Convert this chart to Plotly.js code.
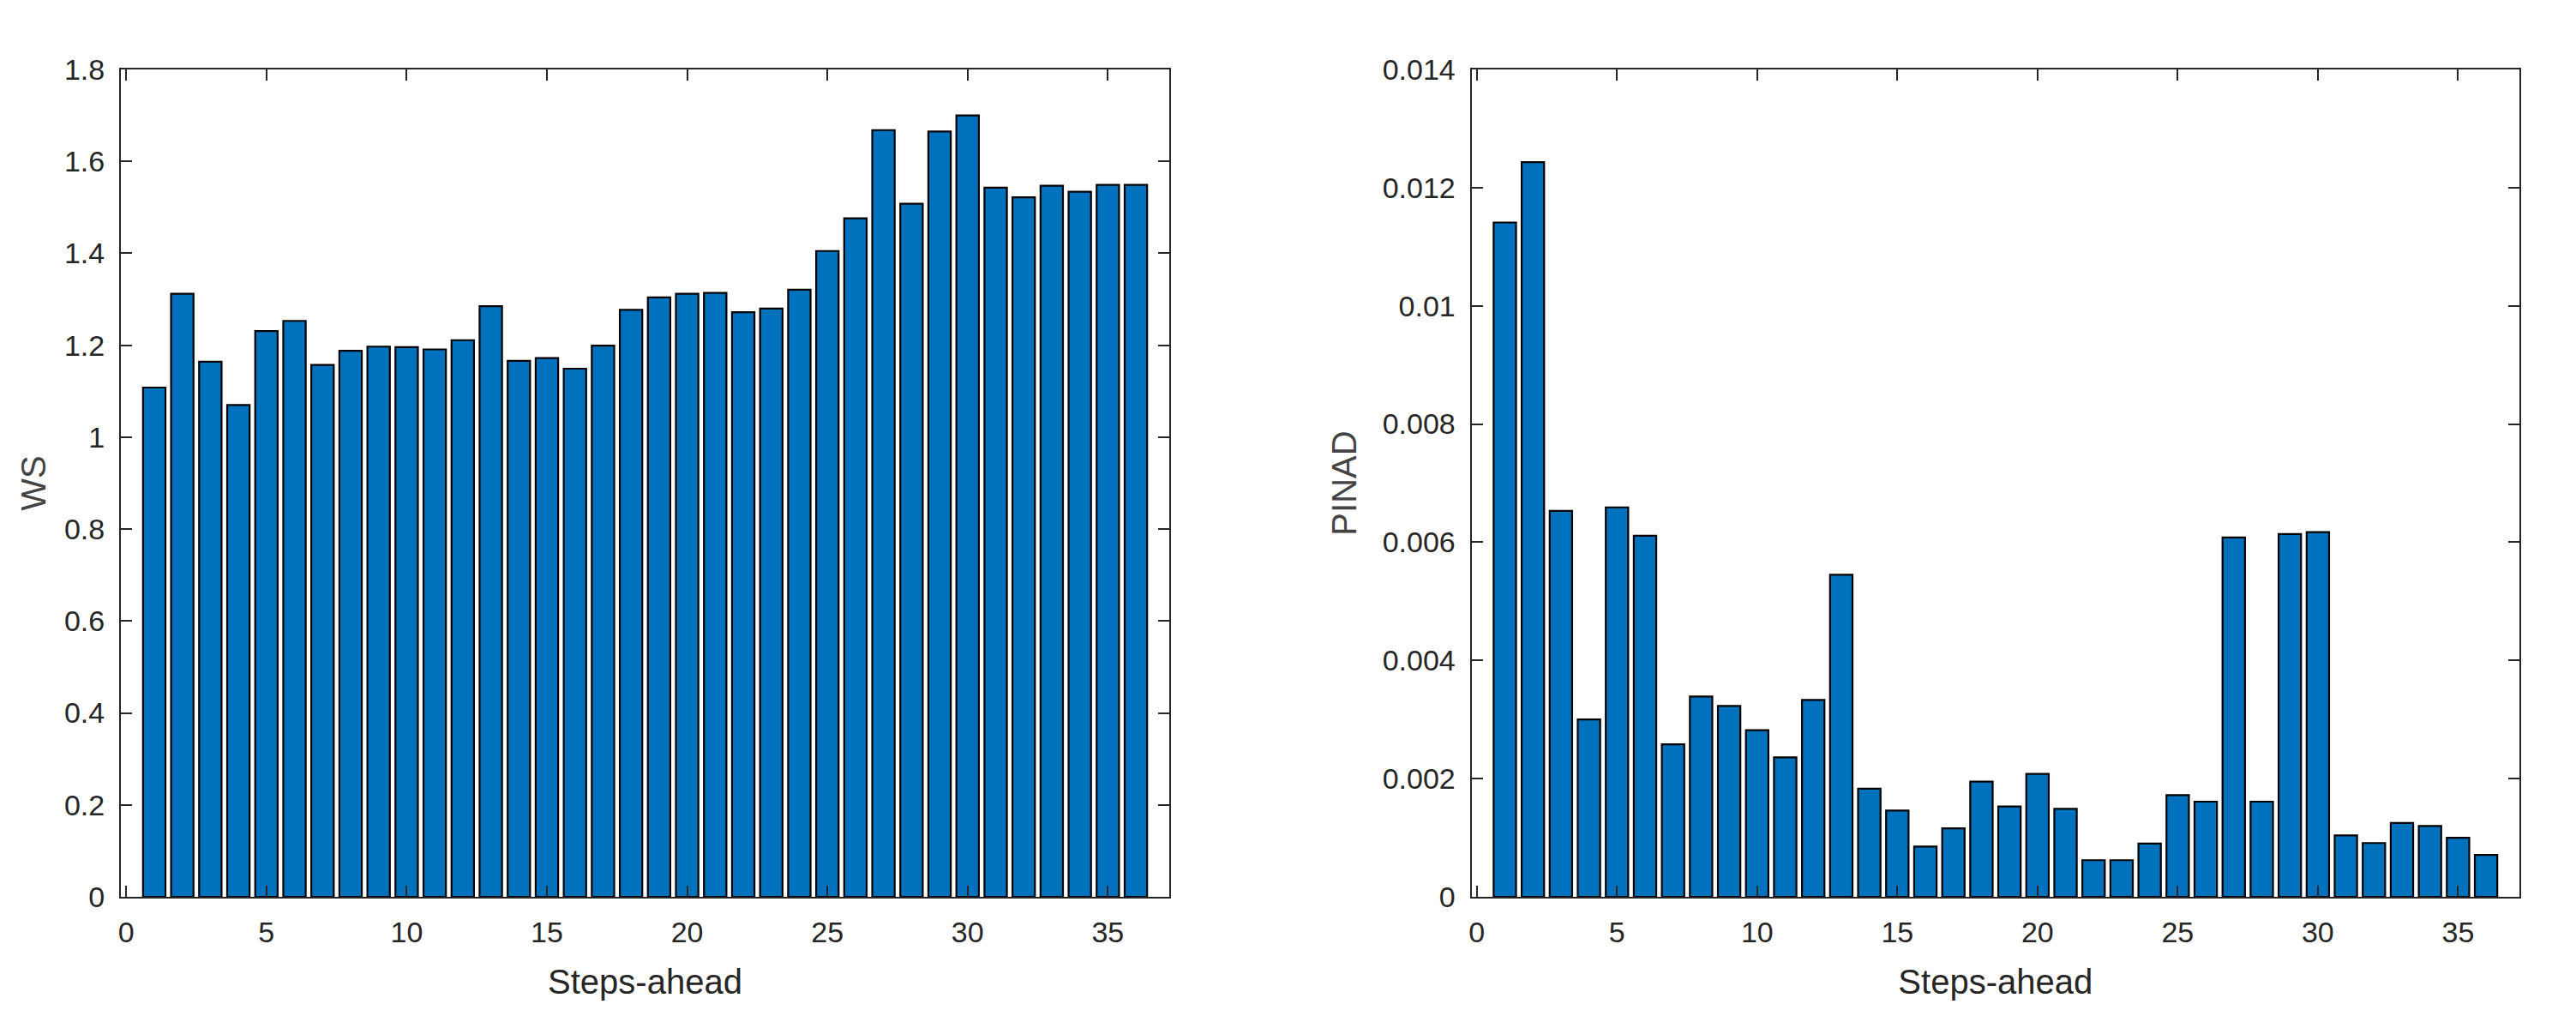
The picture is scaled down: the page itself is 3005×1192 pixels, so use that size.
<!DOCTYPE html>
<html>
<head>
<meta charset="utf-8">
<script src="https://cdn.plot.ly/plotly-3.0.1.min.js"></script>
<style>html,body{margin:0;padding:0;background:#fff;}#chart{width:3005px;height:1192px;}</style>
</head>
<body>
<div id="chart"></div>
<script>
// Steps-ahead categories
var steps = [1,2,3,4,5,6,7,8,9,10,11,12,13,14,15,16,17,18,19,20,21,22,23,24,25,26,27,28,29,30,31,32,33,34,35,36];

// WS values (left panel)
var wsValues = [1.108,1.312,1.164,1.070,1.231,1.253,1.157,1.188,1.197,1.196,1.191,1.211,1.285,1.166,1.172,1.149,1.199,1.277,
                1.304,1.312,1.314,1.272,1.280,1.321,1.405,1.476,1.668,1.508,1.665,1.700,1.543,1.522,1.547,1.534,1.549,1.549];

// PINAD values (right panel)
var pinadValues = [0.01141,0.01243,0.00653,0.00300,0.00659,0.00611,0.00258,0.00339,0.00323,0.00282,0.00236,0.00333,0.00545,0.00183,0.00146,0.00085,0.00116,0.00195,
                   0.00153,0.00208,0.00149,0.00062,0.00062,0.00090,0.00172,0.00161,0.00608,0.00161,0.00614,0.00617,0.00104,0.00091,0.00125,0.00120,0.00100,0.00071];

// tick labels
var xTickVals = [0,5,10,15,20,25,30,35];
var xTickText = ['0','5','10','15','20','25','30','35'];
var wsTickVals = [0,0.2,0.4,0.6,0.8,1,1.2,1.4,1.6,1.8];
var wsTickText = ['0','0.2','0.4','0.6','0.8','1','1.2','1.4','1.6','1.8'];
var pinadTickVals = [0,0.002,0.004,0.006,0.008,0.01,0.012,0.014];
var pinadTickText = ['0','0.002','0.004','0.006','0.008','0.01','0.012','0.014'];

var barColor = '#0072BD';
var axisColor = '#262626';
var fontFam = 'Liberation Sans, Arial, Helvetica, sans-serif';

var traces = [
  {type:'bar', x:steps, y:wsValues, width:0.8, xaxis:'x', yaxis:'y',
   marker:{color:barColor, line:{color:'#000000', width:2.2}}, hoverinfo:'x+y'},
  {type:'bar', x:steps, y:pinadValues, width:0.8, xaxis:'x2', yaxis:'y2',
   marker:{color:barColor, line:{color:'#000000', width:2.2}}, hoverinfo:'x+y'}
];

function xAxis(domain, anchor){
  return {
    domain: domain, anchor: anchor, range:[-0.19, 37.19],
    tickmode:'array', tickvals:xTickVals, ticktext:xTickText,
    ticks:'inside', ticklen:13, tickwidth:2, tickcolor:axisColor,
    showline:true, linecolor:axisColor, linewidth:2, mirror:'ticks',
    showgrid:false, zeroline:false,
    tickfont:{family:fontFam, size:34, color:axisColor},
    ticklabelstandoff: 10,
    title:{text:'Steps-ahead', font:{family:fontFam, size:40, color:axisColor}, standoff:26},
    automargin:false, fixedrange:true
  };
}
function yAxis(range, vals, text, label, anchor, standoff){
  return {
    domain:[0,1], anchor: anchor, range: range,
    tickmode:'array', tickvals:vals, ticktext:text,
    ticks:'inside', ticklen:13, tickwidth:2, tickcolor:axisColor,
    showline:true, linecolor:axisColor, linewidth:2, mirror:'ticks',
    showgrid:false, zeroline:false,
    tickfont:{family:fontFam, size:34, color:axisColor},
    ticklabelstandoff: 10,
    title:{text:label, font:{family:fontFam, size:40, color:'#444444'}, standoff:standoff},
    automargin:false, fixedrange:true
  };
}

var layout = {
  width:3005, height:1192,
  margin:{l:141, r:66, t:81, b:146},
  paper_bgcolor:'#ffffff', plot_bgcolor:'#ffffff',
  showlegend:false, bargap:0,
  font:{family:fontFam, color:axisColor},
  xaxis: xAxis([0, 0.4371], 'y'),
  yaxis: yAxis([0,1.8], wsTickVals, wsTickText, 'WS', 'x', 9),
  xaxis2: xAxis([0.5631, 1], 'y2'),
  yaxis2: yAxis([0,0.014], pinadTickVals, pinadTickText, 'PINAD', 'x2', 18)
};

Plotly.newPlot('chart', traces, layout, {displayModeBar:false, staticPlot:true});
</script>
</body>
</html>
